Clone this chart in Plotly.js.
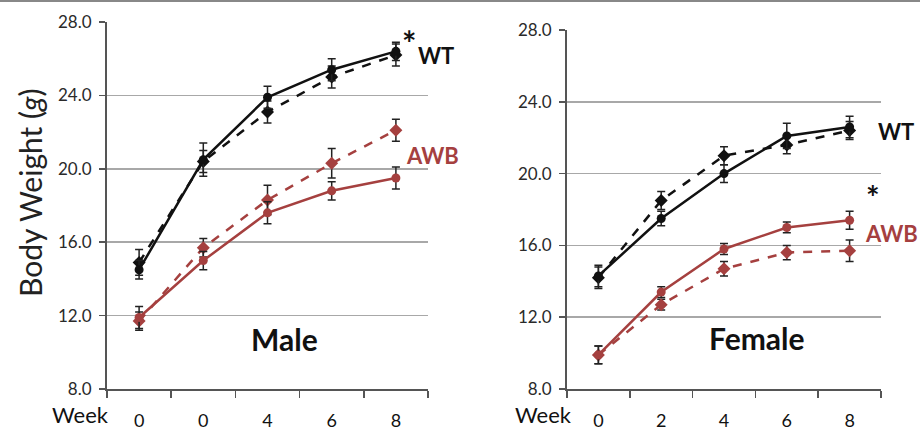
<!DOCTYPE html>
<html>
<head>
<meta charset="utf-8">
<script src="https://cdn.plot.ly/plotly-3.0.1.min.js"></script>
<style>
  html, body { margin: 0; padding: 0; background: #fff; }
  #chart { width: 920px; height: 430px; }
</style>
</head>
<body>
<div id="chart"></div>
<script>
// ---- Data ----
const weeksMale = ["0", "0", "4", "6", "8"];
const weeksFemale = ["0", "2", "4", "6", "8"];

const maleWTsolid = [14.5, 20.5, 23.9, 25.4, 26.4];
const maleWTsolidErr = [0.5, 0.9, 0.6, 0.6, 0.5];
const maleWTdash = [14.9, 20.4, 23.1, 25.0, 26.2];
const maleWTdashErr = [0.7, 0.6, 0.6, 0.6, 0.6];
const maleAWBsolid = [11.9, 15.0, 17.6, 18.8, 19.5];
const maleAWBsolidErr = [0.6, 0.5, 0.6, 0.5, 0.6];
const maleAWBdash = [11.7, 15.7, 18.3, 20.3, 22.1];
const maleAWBdashErr = [0.5, 0.5, 0.8, 0.8, 0.6];

const femaleWTsolid = [14.3, 17.5, 20.0, 22.1, 22.6];
const femaleWTsolidErr = [0.6, 0.4, 0.5, 0.7, 0.6];
const femaleWTdash = [14.2, 18.5, 21.0, 21.6, 22.4];
const femaleWTdashErr = [0.6, 0.5, 0.5, 0.5, 0.5];
const femaleAWBsolid = [9.9, 13.4, 15.8, 17.0, 17.4];
const femaleAWBsolidErr = [0.5, 0.3, 0.3, 0.3, 0.5];
const femaleAWBdash = [9.9, 12.7, 14.7, 15.6, 15.7];
const femaleAWBdashErr = [0.5, 0.3, 0.4, 0.4, 0.6];

const yTicks = [8, 12, 16, 20, 24, 28];

// ---- Styles ----
const BLACK = "#111111";
const RED = "#A5403F";
const FONT = "Lato, 'Open Sans', sans-serif";

function series(y, err, color, dashed, xa, ya) {
  return {
    x: y.map((_, i) => i),
    y: y,
    xaxis: xa, yaxis: ya,
    type: "scatter",
    mode: "lines+markers",
    line: { color: color, width: 2.5, dash: dashed ? "dash" : "solid" },
    marker: { color: color, size: dashed ? 10 : 9, symbol: dashed ? "diamond" : "circle" },
    error_y: { type: "data", array: err, visible: true, color: "#222", thickness: 1.5, width: 4 },
    hoverinfo: "skip",
    showlegend: false
  };
}

const traces = [
  series(maleAWBdash, maleAWBdashErr, RED, true, "x", "y"),
  series(maleAWBsolid, maleAWBsolidErr, RED, false, "x", "y"),
  series(maleWTdash, maleWTdashErr, BLACK, true, "x", "y"),
  series(maleWTsolid, maleWTsolidErr, BLACK, false, "x", "y"),
  series(femaleAWBdash, femaleAWBdashErr, RED, true, "x2", "y2"),
  series(femaleAWBsolid, femaleAWBsolidErr, RED, false, "x2", "y2"),
  series(femaleWTdash, femaleWTdashErr, BLACK, true, "x2", "y2"),
  series(femaleWTsolid, femaleWTsolidErr, BLACK, false, "x2", "y2")
];

const W = 920, H = 430;
function px(x) { return x / W; }
function py(y) { return (H - y) / H; }

function xAxis(labels, domain, anchor) {
  return {
    domain: domain,
    anchor: anchor,
    range: [-0.5, labels.length - 0.5],
    tickvals: labels.map((_, i) => i),
    ticktext: labels,
    ticks: "",
    showgrid: false,
    zeroline: false,
    showline: true,
    linecolor: "#555",
    linewidth: 2,
    tickfont: { family: FONT, size: 18, color: "#111" },
    ticklabelstandoff: 14,
    minor: {
      tickvals: labels.map((_, i) => i - 0.5).concat([labels.length - 0.5]),
      ticks: "outside",
      ticklen: 7,
      tickwidth: 1.5,
      tickcolor: "#555",
      showgrid: false
    },
    fixedrange: true
  };
}

function yAxis(domain, anchor) {
  return {
    domain: domain,
    anchor: anchor,
    range: [8, 28],
    tickvals: yTicks,
    ticktext: yTicks.map(v => v.toFixed(1)),
    ticks: "outside",
    ticklen: 6,
    tickwidth: 1.5,
    tickcolor: "#555",
    showgrid: true,
    gridcolor: "#a8a8a8",
    gridwidth: 1.5,
    zeroline: false,
    showline: true,
    linecolor: "#555",
    linewidth: 2,
    tickfont: { family: FONT, size: 17, color: "#2a2a2a" },
    ticklabelstandoff: 4,
    fixedrange: true
  };
}

function ann(text, x, y, size, color, bold, extra) {
  return Object.assign({
    text: bold ? "<b>" + text + "</b>" : text,
    xref: "paper", yref: "paper",
    x: px(x), y: py(y),
    xanchor: "center", yanchor: "middle",
    showarrow: false,
    font: { family: FONT, size: size, color: color }
  }, extra || {});
}

const layout = {
  width: W, height: H,
  autosize: false,
  margin: { l: 0, r: 0, t: 0, b: 0 },
  paper_bgcolor: "#ffffff",
  plot_bgcolor: "#ffffff",
  showlegend: false,
  hovermode: false,
  xaxis: xAxis(weeksMale, [px(107), px(428)], "y"),
  yaxis: yAxis([py(389), py(22)], "x"),
  xaxis2: xAxis(weeksFemale, [px(567), px(881)], "y2"),
  yaxis2: yAxis([py(389), py(30)], "x2"),
  annotations: [
    ann("Body Weight (<i>g</i>)", 30, 193, 30, "#222", false, { textangle: -90 }),
    ann("Week", 80, 414, 22, "#111", false),
    ann("Week", 543, 414, 22, "#111", false),
    ann("WT", 436, 55, 22, "#111", true),
    ann("*", 409, 43, 34, "#111", true),
    ann("AWB", 432, 155, 22, RED, true),
    ann("Male", 284, 339, 30, "#111", true),
    ann("WT", 896, 131, 22, "#111", true),
    ann("*", 873, 197, 32, "#111", true),
    ann("AWB", 891, 233, 22, RED, true),
    ann("Female", 756, 338, 30, "#111", true)
  ],
  shapes: [
    { type: "line", xref: "paper", yref: "paper", x0: 0, x1: 1, y0: 1 - 1 / H, y1: 1 - 1 / H,
      line: { color: "#888", width: 2 } }
  ]
};

Plotly.newPlot("chart", traces, layout, { displayModeBar: false, staticPlot: true });
</script>
</body>
</html>
